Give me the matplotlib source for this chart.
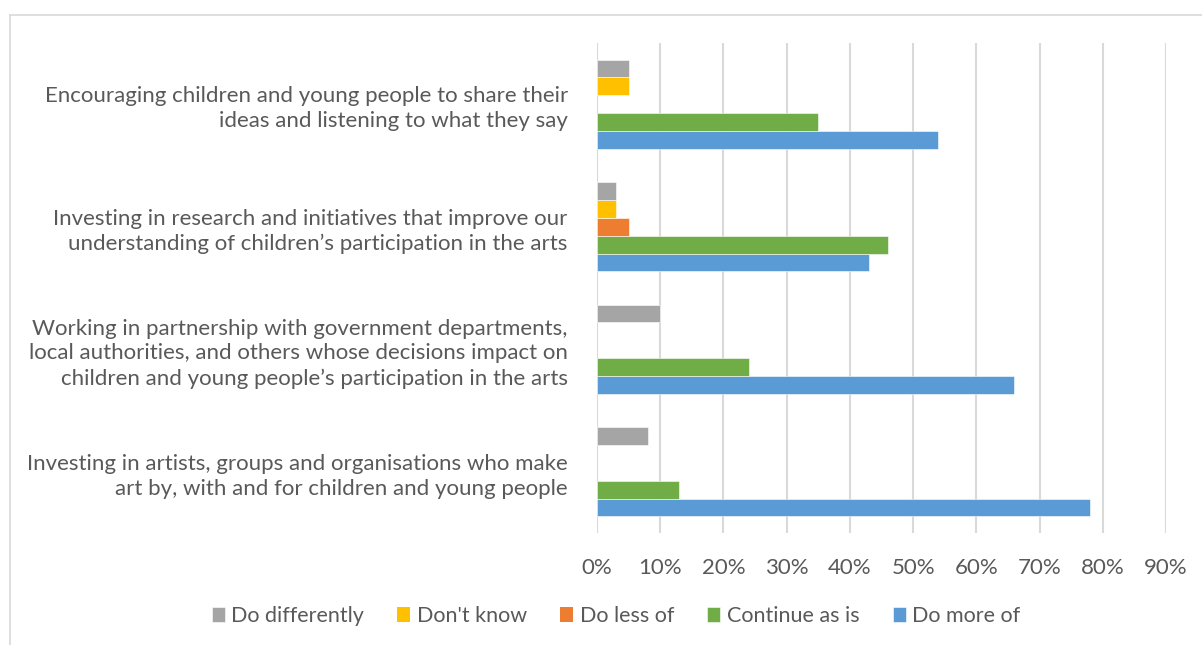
import numpy as np
import matplotlib.pyplot as plt
from matplotlib.lines import Line2D

plt.rcParams['font.family'] = ['Lato', 'DejaVu Sans']

categories = [
    'Investing in artists, groups and organisations who make\nart by, with and for children and young people',
    'Working in partnership with government departments,\nlocal authorities, and others whose decisions impact on\nchildren and young people\u2019s participation in the arts',
    'Investing in research and initiatives that improve our\nunderstanding of children\u2019s participation in the arts',
    'Encouraging children and young people to share their\nideas and listening to what they say',
]

# shares in %, same order as categories (bottom to top)
do_more_of = [78, 66, 43, 54]
continue_as_is = [13, 24, 46, 35]
do_less_of = [0, 0, 5, 0]
dont_know = [0, 0, 3, 5]
do_differently = [8, 10, 3, 5]

series = [
    ('Do more of', do_more_of, '#5B9BD5'),
    ('Continue as is', continue_as_is, '#70AD47'),
    ('Do less of', do_less_of, '#ED7D31'),
    ("Don't know", dont_know, '#FFC000'),
    ('Do differently', do_differently, '#A5A5A5'),
]

text_col = '#595959'
grid_col = '#D9D9D9'

fig = plt.figure(figsize=(12.02, 6.45), dpi=100)
ax = fig.add_axes([597/1202, 1 - 533/645, 569/1202, 490/645])

y = np.arange(len(categories))
h = 0.146
handles = {}
for k, (name, vals, col) in enumerate(series):
    vals = np.array(vals) / 100
    bars = ax.barh(y + (k - 2) * h, vals, height=h, color=col,
                   edgecolor='white', linewidth=0.4)
    for b, v in zip(bars, vals):
        if v == 0:
            b.set_linewidth(0)
    handles[name] = bars

ticks = np.arange(0, 0.91, 0.1)
ax.set_xlim(0, 0.9)
ax.set_ylim(-0.5, len(categories) - 0.5)
ax.set_xticks(ticks)
ax.set_xticklabels([f'{int(round(t*100))}%' for t in ticks])
ax.set_yticks(y)
ax.set_yticklabels(categories, linespacing=1.3)
ax.tick_params(axis='both', length=0, colors=text_col, labelsize=16)
ax.tick_params(axis='y', pad=21)
ax.tick_params(axis='x', pad=18)
for lab in ax.get_yticklabels():
    lab.set_horizontalalignment('right')

ax.grid(axis='x', color=grid_col, linewidth=1.5)
ax.set_axisbelow(True)
for s in ax.spines.values():
    s.set_visible(False)

order = ['Do differently', "Don't know", 'Do less of', 'Continue as is', 'Do more of']
leg = fig.legend([handles[n] for n in order], order, loc='center',
                 bbox_to_anchor=(616/1202, 1 - 616/645), ncol=5, frameon=False,
                 fontsize=15.5, handlelength=0.6, handleheight=0.7,
                 handletextpad=0.3, columnspacing=1.55)
for t in leg.get_texts():
    t.set_color(text_col)

# chart area frame
fig.add_artist(Line2D([10/1202, 10/1202], [0, 1 - 15/645], color=grid_col,
                      linewidth=1.2, transform=fig.transFigure))
fig.add_artist(Line2D([10/1202, 1], [1 - 15/645, 1 - 15/645], color=grid_col,
                      linewidth=1.2, transform=fig.transFigure))

fig.savefig('out.png', dpi=100)
